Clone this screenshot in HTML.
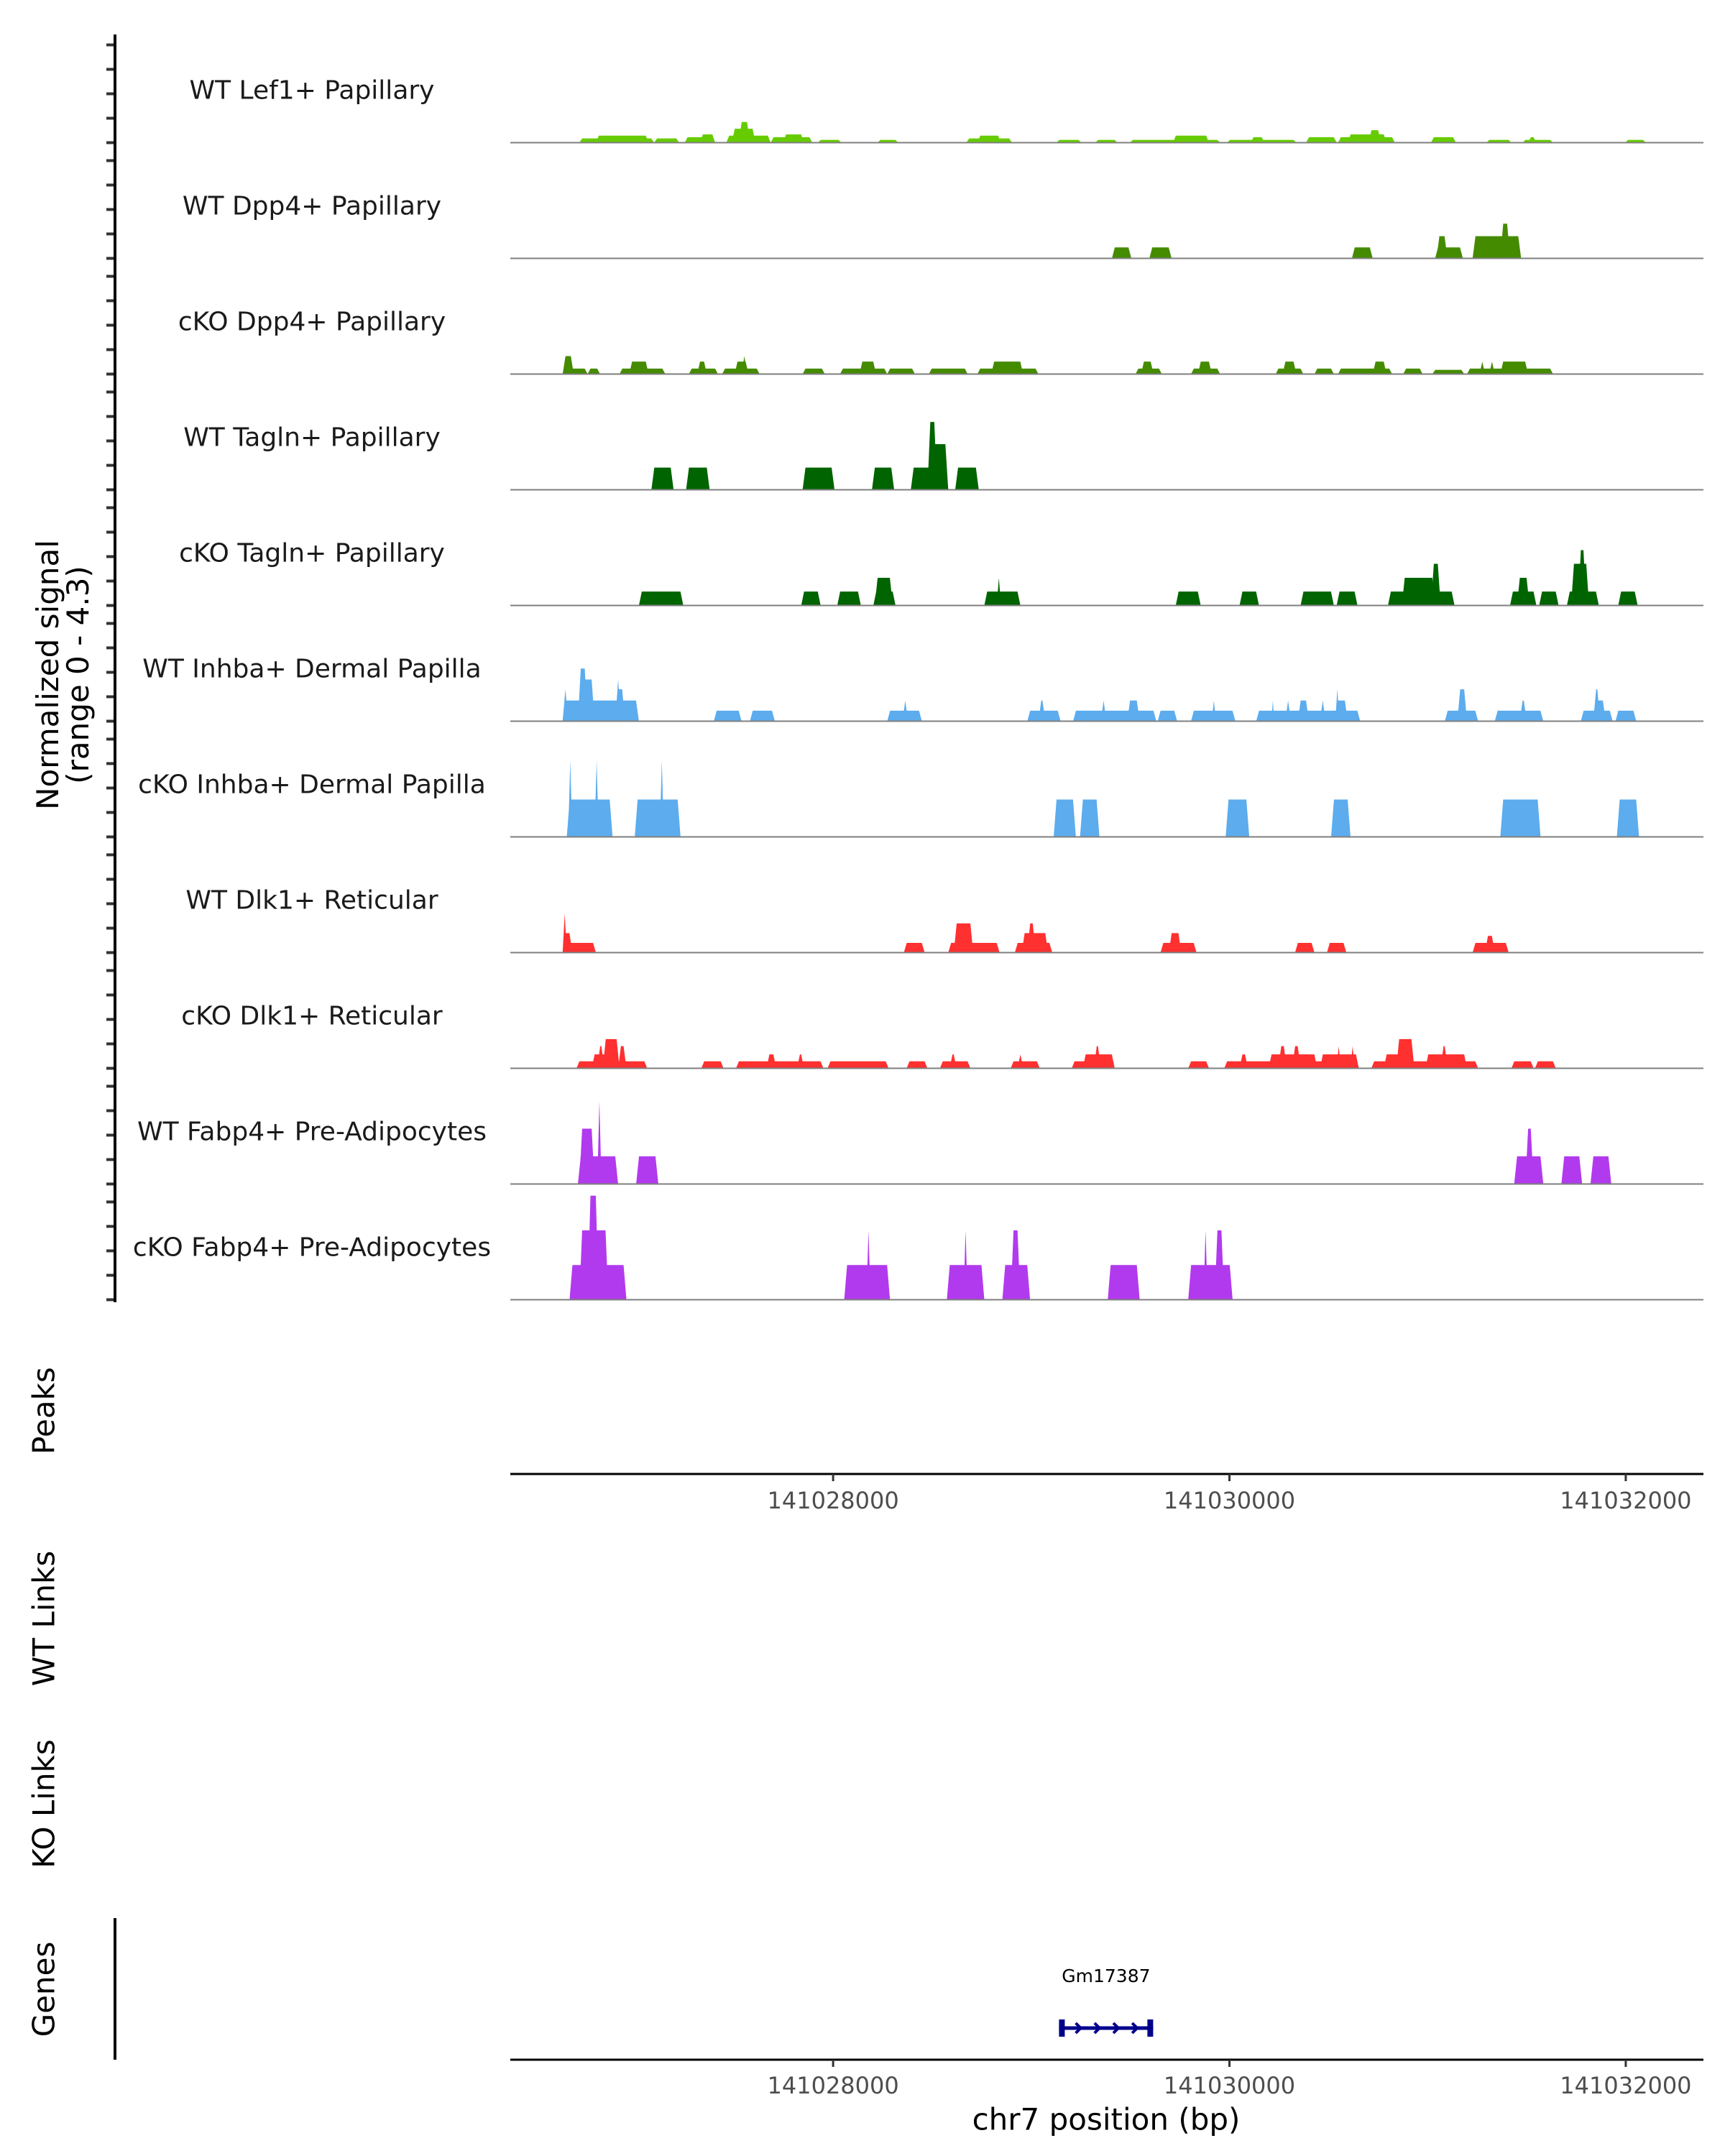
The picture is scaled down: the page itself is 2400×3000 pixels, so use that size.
<!DOCTYPE html>
<html><head><meta charset="utf-8"><style>
html,body{margin:0;padding:0;background:#fff;}
svg{display:block;font-family:"DejaVu Sans","Liberation Sans",sans-serif;}
</style></head><body>
<svg id="chart" xmlns="http://www.w3.org/2000/svg" width="2400" height="3000" viewBox="0 0 2400 3000">
<g id="tracks"></g>
<g id="axes"></g>
</svg>
<script>
const chromStart = 141026000;
const trackLabels = ["WT Lef1+ Papillary","WT Dpp4+ Papillary","cKO Dpp4+ Papillary","WT Tagln+ Papillary","cKO Tagln+ Papillary","WT Inhba+ Dermal Papilla","cKO Inhba+ Dermal Papilla","WT Dlk1+ Reticular","cKO Dlk1+ Reticular","WT Fabp4+ Pre-Adipocytes","cKO Fabp4+ Pre-Adipocytes"];
const trackColors = ["#66CC00","#458B00","#458B00","#006400","#006400","#5CACEE","#5CACEE","#FF3030","#FF3030","#B23AEE","#B23AEE"];
const xTicks = [141028000,141030000,141032000];
const xDomain = [141026371,141032392];
const yMax = 4.3;
// peaks: [start offset from chromStart (bp), end offset (bp), normalized signal]
const t1 = [[719,1097,0.17],[803,1069,0.28],[1097,1223,0.17],[1251,1405,0.22],[1328,1405,0.33],[1461,1685,0.28],[1489,1608,0.56],[1524,1580,0.83],[1685,1895,0.22],[1748,1853,0.33],[1923,2042,0.11],[2224,2329,0.11],[2672,2903,0.17],[2728,2847,0.28],[3127,3253,0.11],[3323,3435,0.11],[3498,3953,0.11],[3715,3897,0.28],[3988,4338,0.11],[4107,4177,0.22],[4387,4541,0.22],[4548,4835,0.22],[4597,4793,0.33],[4702,4765,0.5],[5017,5143,0.22],[5297,5423,0.11],[5479,5633,0.11],[5507,5549,0.22],[5997,6102,0.11]];
const t2 = [[3407,3505,0.44],[3596,3708,0.44],[4618,4723,0.44],[5038,5178,0.44],[5045,5100,0.89],[5227,5472,0.89],[5367,5416,1.39],[5416,5472,0.44]];
const t3 = [[635,691,0.72],[635,761,0.22],[761,824,0.22],[922,1153,0.22],[971,1069,0.5],[1272,1419,0.22],[1314,1363,0.5],[1440,1629,0.22],[1503,1573,0.5],[1538,1566,0.72],[1846,1958,0.22],[2035,2273,0.22],[2133,2217,0.5],[2273,2413,0.22],[2483,2679,0.22],[2728,3036,0.22],[2798,2959,0.5],[3526,3659,0.22],[3554,3617,0.5],[3806,3953,0.22],[3841,3911,0.5],[4233,4373,0.22],[4268,4338,0.5],[4429,4527,0.22],[4548,4821,0.22],[4723,4793,0.5],[4877,4975,0.22],[5024,5185,0.17],[5199,5633,0.22],[5262,5290,0.5],[5311,5339,0.5],[5367,5507,0.5]];
const t4 = [[1083,1195,0.89],[1258,1377,0.89],[1846,2007,0.89],[2196,2308,0.89],[2392,2581,0.89],[2476,2525,2.72],[2476,2581,1.83],[2616,2735,0.89]];
const t5 = [[1020,1244,0.56],[1839,1937,0.56],[2021,2140,0.56],[2203,2315,0.56],[2210,2301,1.11],[2763,2945,0.56],[2826,2847,1.11],[3729,3855,0.56],[4051,4149,0.56],[4359,4527,0.56],[4541,4646,0.56],[4800,5136,0.56],[4870,5038,1.11],[5017,5066,1.67],[5416,5549,0.56],[5451,5514,1.11],[5563,5661,0.56],[5703,5864,0.56],[5724,5815,1.67],[5759,5801,2.22],[5962,6060,0.56]];
const t6 = [[635,1020,0.83],[635,663,1.28],[712,761,2.11],[712,796,1.67],[901,929,1.67],[901,950,1.28],[1398,1538,0.42],[1580,1706,0.42],[2273,2448,0.42],[2350,2378,0.83],[2980,3148,0.42],[3036,3071,0.83],[3211,3631,0.42],[3351,3379,0.83],[3484,3547,0.83],[3638,3736,0.42],[3806,4030,0.42],[3911,3932,0.83],[4135,4660,0.42],[4212,4226,0.83],[4282,4310,0.83],[4345,4401,0.83],[4457,4485,0.83],[4534,4555,1.28],[4534,4597,0.83],[5087,5255,0.42],[5150,5199,1.28],[5339,5584,0.42],[5465,5500,0.83],[5773,5934,0.42],[5836,5871,1.28],[5836,5899,0.83],[5948,6053,0.42]];
const t7 = [[656,887,1.5],[663,684,3.06],[796,817,3.06],[999,1230,1.5],[1125,1146,3.06],[3113,3225,1.5],[3246,3344,1.5],[3981,4100,1.5],[4513,4611,1.5],[5367,5570,1.5],[5955,6067,1.5]];
const t8 = [[635,803,0.39],[635,684,0.78],[635,656,1.56],[2357,2462,0.39],[2581,2840,0.39],[2609,2707,1.17],[2917,3106,0.39],[2952,3085,0.78],[2980,3022,1.17],[3652,3834,0.39],[3694,3757,0.78],[4331,4429,0.39],[4492,4590,0.39],[5227,5409,0.39],[5290,5339,0.67]];
const t9 = [[705,1062,0.28],[782,873,0.56],[810,845,0.89],[838,922,1.17],[915,957,0.89],[1335,1447,0.28],[1510,1951,0.28],[1664,1713,0.56],[1818,1853,0.56],[1972,2280,0.28],[2371,2476,0.28],[2539,2693,0.28],[2588,2623,0.56],[2896,3043,0.28],[2931,2959,0.56],[3204,3421,0.28],[3260,3421,0.56],[3316,3351,0.89],[3792,3897,0.28],[3974,4653,0.28],[4051,4093,0.56],[4198,4443,0.56],[4247,4289,0.89],[4317,4359,0.89],[4457,4653,0.56],[4541,4562,0.89],[4611,4632,0.89],[4716,5255,0.28],[4779,4933,0.56],[4842,4933,1.17],[4989,5199,0.56],[5066,5101,0.89],[5423,5535,0.28],[5542,5647,0.28]];
const t10 = [[712,915,1.11],[719,796,2.22],[810,831,3.33],[1006,1118,1.11],[5437,5584,1.11],[5493,5535,2.22],[5675,5780,1.11],[5822,5927,1.11]];
const t11 = [[670,957,1.39],[719,866,2.78],[761,817,4.17],[2056,2287,1.39],[2168,2189,2.78],[2574,2763,1.39],[2658,2679,2.78],[2854,2994,1.39],[2896,2945,2.78],[3386,3547,1.39],[3792,4016,1.39],[3869,3890,2.78],[3925,3974,2.78]];
const geneName = "Gm17387";
const geneStart = 141029140;
const geneEnd = 141029615;

const tracks = [t1,t2,t3,t4,t5,t6,t7,t8,t9,t10,t11];
const NS = "http://www.w3.org/2000/svg";
const X0 = 710, X1 = 2370;
function xScale(bp){ return X0 + (bp - xDomain[0]) / (xDomain[1] - xDomain[0]) * (X1 - X0); }
const TRACK_H = 161, FIRST_BASE = 198.5, UNIT = 34.7;
function baseY(i){ return FIRST_BASE + i * TRACK_H; }
function yScale(i, v){ return baseY(i) - v * UNIT; }
function mk(tag, attrs, parent){ const e = document.createElementNS(NS, tag); for (const k in attrs) e.setAttribute(k, attrs[k]); parent.appendChild(e); return e; }

const gT = document.getElementById('tracks');
const gA = document.getElementById('axes');

tracks.forEach((peaks, i) => {
  const g = mk('g', {}, gT);
  
  
  const lab = mk('text', {x: 434, y: baseY(i) - 71, 'font-size': 36, fill: '#1a1a1a', 'text-anchor': 'middle', 'dominant-baseline': 'middle'}, g);
  lab.textContent = trackLabels[i];
  
  
  peaks.forEach(p => {
    const xa = xScale(chromStart + p[0]), xb = xScale(chromStart + p[1]);
    const s = Math.min(4, (xb - xa) / 2);
    const y0 = baseY(i), y1 = yScale(i, p[2]);
    const poly = mk('polygon', {points: `${xa},${y0} ${xa + s},${y1} ${xb - s},${y1} ${xb},${y0}`, fill: trackColors[i]}, g);
    
    
  });
  const bl = mk('line', {x1: X0, x2: X1, y1: baseY(i), y2: baseY(i), stroke: '#7f7f7f', 'stroke-width': 2}, g);
  
  
  for (let k = 0; k <= 4; k++) {
    const t = mk('line', {x1: 148, x2: 160, y1: yScale(i, k * 0.98), y2: yScale(i, k * 0.98), stroke: '#333', 'stroke-width': 4}, gA);
    
    
  }
});

const yAxis = mk('line', {x1: 160, x2: 160, y1: 48, y2: 1812, stroke: '#000', 'stroke-width': 4}, gA);



const yt = mk('text', {transform: 'translate(87,939) rotate(-90)', 'font-size': 42, fill: '#000', 'text-anchor': 'middle'}, gA);


const ts1 = mk('tspan', {x: 0, dy: -6}, yt); ts1.textContent = 'Normalized signal';
const ts2 = mk('tspan', {x: 0, dy: 42}, yt); ts2.textContent = '(range 0 - 4.3)';

[['Peaks', 1963, 'peaks-title'], ['WT Links', 2252, 'wt-links-title'], ['KO Links', 2510, 'ko-links-title'], ['Genes', 2768, 'genes-title']].forEach(d => {
  const t = mk('text', {transform: `translate(64,${d[1]}) rotate(-90)`, 'font-size': 42, fill: '#000', 'text-anchor': 'middle', 'dominant-baseline': 'middle'}, gA);
  t.textContent = d[0];
  
  
});

function xAxis(y, labY, name){
  const l = mk('line', {x1: X0, x2: X1, y1: y, y2: y, stroke: '#000', 'stroke-width': 3}, gA);
  
  
  xTicks.forEach(v => {
    const tk = mk('line', {x1: xScale(v), x2: xScale(v), y1: y, y2: y + 10, stroke: '#333', 'stroke-width': 3}, gA);
    
    
    const tl = mk('text', {x: xScale(v), y: labY, 'font-size': 32, fill: '#4d4d4d', 'text-anchor': 'middle', 'dominant-baseline': 'middle'}, gA);
    tl.textContent = String(v);
    
    
  });
}
xAxis(2051, 2090, 'peaks-x-axis');
xAxis(2866, 2904, 'genes-x-axis');

const gy = mk('line', {x1: 160, x2: 160, y1: 2669, y2: 2866, stroke: '#000', 'stroke-width': 4}, gA);



const xt = mk('text', {x: 1539, y: 2952, 'font-size': 42, fill: '#000', 'text-anchor': 'middle', 'dominant-baseline': 'middle'}, gA);
xt.textContent = 'chr7 position (bp)';



const gg = mk('g', {}, gA);


const gx0 = xScale(geneStart), gx1 = xScale(geneEnd), gyc = 2822;
const gl = mk('text', {x: (gx0 + gx1) / 2, y: 2751, 'font-size': 25, fill: '#000', 'text-anchor': 'middle', 'dominant-baseline': 'middle'}, gg);
gl.textContent = geneName;


const gline = mk('line', {x1: gx0, x2: gx1, y1: gyc, y2: gyc, stroke: '#00008B', 'stroke-width': 5}, gg);


[gx0, gx1 - 8].forEach(x => {
  const r = mk('rect', {x: x, y: gyc - 12, width: 8, height: 24, fill: '#00008B'}, gg);
  
  
});
for (let k = 1; k <= 4; k++) {
  const ax = gx0 + (gx1 - gx0) * k / 5 + 4;
  const a = mk('polyline', {points: `${ax - 7},${gyc - 7} ${ax},${gyc} ${ax - 7},${gyc + 7}`, fill: 'none', stroke: '#00008B', 'stroke-width': 4}, gg);
  
  
}
</script>
</body></html>
